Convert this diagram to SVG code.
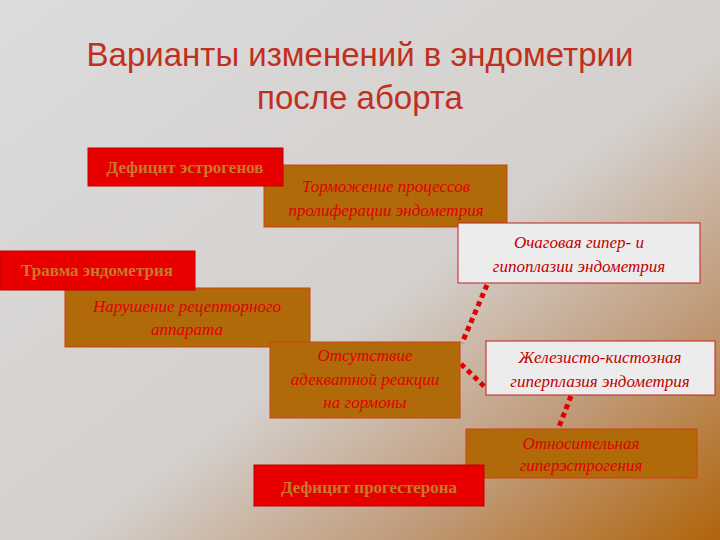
<svg xmlns="http://www.w3.org/2000/svg" width="720" height="540" viewBox="0 0 720 540">
<defs>
<linearGradient id="bg" x1="0" y1="0" x2="1" y2="1">
<stop offset="0" stop-color="#dcdcdc"/><stop offset="0.55" stop-color="#d4d0cd"/><stop offset="0.78" stop-color="#c09a78"/><stop offset="1" stop-color="#b0640a"/>
</linearGradient>
<style>
.br{fill:#b06a0a;stroke:#d04010;stroke-width:1}
.rd{fill:#e80000;stroke:#c00000;stroke-width:1}
.wh{fill:#ececec;stroke:#c02020;stroke-width:1}
.ti{font-family:"Liberation Serif",serif;font-style:italic;font-size:17px;fill:#e00000;text-anchor:middle}
.tb{font-family:"Liberation Serif",serif;font-weight:bold;font-size:17px;fill:#c8782a;text-anchor:middle}
.tw{font-family:"Liberation Serif",serif;font-style:italic;font-size:17px;fill:#c00000;text-anchor:middle}
.dl{stroke:#e00000;stroke-width:5;stroke-dasharray:5,4;fill:none}
</style>
</defs>
<rect width="720" height="540" fill="url(#bg)"/>
<text x="360" y="66" font-family="Liberation Sans,sans-serif" font-size="33" fill="#c0301e" text-anchor="middle">Варианты изменений в эндометрии</text>
<text x="360" y="109" font-family="Liberation Sans,sans-serif" font-size="33" fill="#c0301e" text-anchor="middle">после аборта</text>
<g id="connectors">
<line class="dl" x1="487" y1="285" x2="462" y2="343"/>
<line class="dl" x1="461" y1="364" x2="487" y2="389"/>
<line class="dl" x1="571" y1="396" x2="557" y2="432"/>
</g>
<g id="n2"><rect class="br" x="264" y="165" width="243" height="62"/><text class="ti" x="386" y="192">Торможение процессов</text><text class="ti" x="386" y="216">пролиферации эндометрия</text></g>
<g id="n1"><rect class="rd" x="88" y="148" width="195" height="38"/><text class="tb" x="185" y="173">Дефицит эстрогенов</text></g>
<g id="n3"><rect class="wh" x="458" y="223" width="242" height="60"/><text class="tw" x="579" y="248">Очаговая гипер- и</text><text class="tw" x="579" y="272">гипоплазии эндометрия</text></g>
<g id="n5"><rect class="br" x="65" y="288" width="245" height="59"/><text class="ti" x="187" y="312">Нарушение рецепторного</text><text class="ti" x="187" y="335">аппарата</text></g>
<g id="n4"><rect class="rd" x="0" y="251" width="195" height="39"/><text class="tb" x="97" y="276">Травма эндометрия</text></g>
<g id="n6"><rect class="br" x="270" y="342" width="190" height="76"/><text class="ti" x="365" y="361">Отсутствие</text><text class="ti" x="365" y="385">адекватной реакции</text><text class="ti" x="365" y="408">на гормоны</text></g>
<g id="n7"><rect class="wh" x="486" y="341" width="229" height="54"/><text class="tw" x="600" y="363">Железисто-кистозная</text><text class="tw" x="600" y="387">гиперплазия эндометрия</text></g>
<g id="n8"><rect class="br" x="466" y="429" width="231" height="49"/><text class="ti" x="581" y="449">Относительная</text><text class="ti" x="581" y="471">гиперэстрогения</text></g>
<g id="n9"><rect class="rd" x="254" y="465" width="230" height="41"/><text class="tb" x="369" y="493">Дефицит прогестерона</text></g>
</svg>
